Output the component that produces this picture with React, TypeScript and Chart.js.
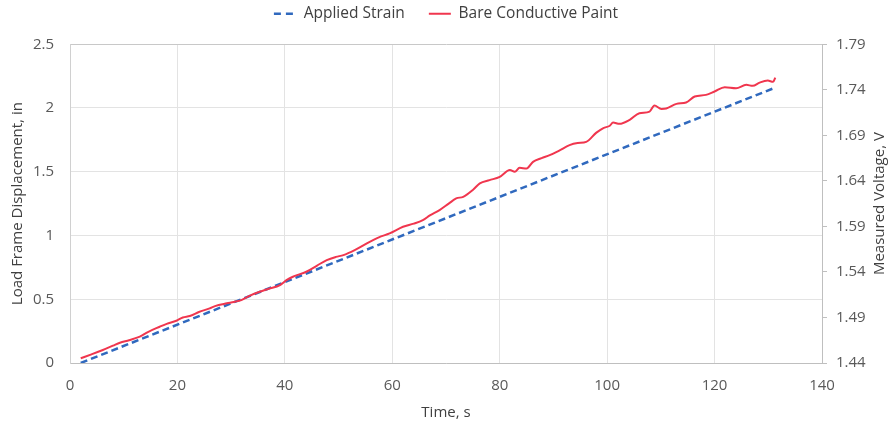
import React, { useEffect, useRef } from 'react';
import { Chart, registerables } from 'chart.js';

Chart.register(...registerables);

// Applied Strain (left axis, inches)
const strainTime = [2, 131.3];
const strainDisp = [0, 2.16];

// Bare Conductive Paint (right axis, volts)
const paintTime = [
  2, 4, 6, 8, 9.3, 11, 13, 14.5, 16.7, 18, 19.8, 21, 22.3, 24, 26, 27, 29.2, 30.5, 31.9, 33.5,
  35.3, 37, 39.1, 40.3, 41.5, 44, 46, 47.8, 49.5, 50.9, 53, 55.8, 57.5, 59.5, 62, 64, 65.7, 67,
  68.8, 70.5, 71.9, 73.2, 75, 76.3, 78.1, 80, 81.9, 82.8, 83.7, 85, 86.2, 87.8, 89.3, 91, 93,
  94.5, 96.1, 98, 99.3, 100.5, 101.1, 102.3, 104.2, 106, 107.9, 108.8, 110.1, 111, 112.9, 114.7,
  116.3, 118.4, 120, 121.9, 124, 125.9, 127.1, 128.4, 129.9, 130.9, 131.3,
];
const paintVolt = [
  1.4452, 1.4495, 1.454, 1.459, 1.4623, 1.465, 1.4689, 1.474, 1.4798, 1.483, 1.4864, 1.49, 1.4916,
  1.496, 1.5, 1.5025, 1.5055, 1.507, 1.5091, 1.514, 1.5182, 1.5215, 1.5256, 1.531, 1.5347, 1.5402,
  1.547, 1.553, 1.5565, 1.5585, 1.564, 1.5731, 1.578, 1.5823, 1.5896, 1.593, 1.5969, 1.602, 1.6079,
  1.615, 1.6207, 1.6225, 1.63, 1.6372, 1.6408, 1.6444, 1.6518, 1.6499, 1.6543, 1.6536, 1.6609,
  1.665, 1.6682, 1.673, 1.6792, 1.6815, 1.6828, 1.693, 1.698, 1.7005, 1.704, 1.7026, 1.707, 1.7143,
  1.7161, 1.7227, 1.719, 1.7194, 1.7245, 1.726, 1.7326, 1.7344, 1.7381, 1.7428, 1.7417, 1.7454,
  1.7443, 1.7479, 1.7501, 1.7487, 1.7534,
];

const seriesNames = ['Applied Strain', 'Bare Conductive Paint'];
const axisTitles = { x: 'Time, s', left: 'Load Frame Displacement, in', right: 'Measured Voltage, V' };

const FONT = "'Open Sans', 'Noto Sans', sans-serif";
const TITLE_COLOR = '#404040';

// Right-axis title drawn reading bottom-to-top (like the left one)
const rightTitlePlugin = {
  id: 'rightTitle',
  afterDraw(chart: any) {
    const { ctx, chartArea } = chart;
    ctx.save();
    ctx.translate(880, (chartArea.top + chartArea.bottom) / 2);
    ctx.rotate(-Math.PI / 2);
    ctx.font = `15px ${FONT}`;
    ctx.fillStyle = TITLE_COLOR;
    ctx.textAlign = 'center';
    ctx.textBaseline = 'middle';
    ctx.fillText(axisTitles.right, 0, 0);
    ctx.restore();
  },
};

export default function App() {
  const ref = useRef<HTMLCanvasElement | null>(null);

  useEffect(() => {
    if (!ref.current) return;
    const chart = new Chart(ref.current, {
      type: 'line',
      data: {
        datasets: [
          {
            label: seriesNames[0],
            data: strainTime.map((t, i) => ({ x: t, y: strainDisp[i] })),
            yAxisID: 'y',
            borderColor: '#3069BE',
            backgroundColor: '#3069BE',
            borderWidth: 2.5,
            borderDash: [7, 4],
            pointRadius: 0,
            order: 1,
          },
          {
            label: seriesNames[1],
            data: paintTime.map((t, i) => ({ x: t, y: paintVolt[i] })),
            yAxisID: 'y1',
            borderColor: '#F0364E',
            backgroundColor: '#F0364E',
            borderWidth: 2,
            pointRadius: 0,
            cubicInterpolationMode: 'monotone',
            order: 0,
          },
        ],
      },
      plugins: [rightTitlePlugin],
      options: {
        animation: false,
        responsive: true,
        maintainAspectRatio: false,
        layout: { padding: { top: -18, left: 0, right: 0, bottom: 0 } },
        plugins: {
          tooltip: { enabled: false },
          legend: {
            display: true,
            position: 'top',
            labels: {
              usePointStyle: true,
              pointStyle: 'line',
              pointStyleWidth: 22,
              padding: 24,
              color: TITLE_COLOR,
              font: { family: FONT, size: 15.5 },
              sort: (a: any, b: any) => a.datasetIndex - b.datasetIndex,
              generateLabels: (c: any) => {
                const items = (Chart as any).defaults.plugins.legend.labels.generateLabels(c);
                items.forEach((it: any) => {
                  const ds = c.data.datasets[it.datasetIndex];
                  it.lineDash = ds.borderDash ? [7, 5] : [];
                  it.lineWidth = ds.borderWidth;
                  it.strokeStyle = ds.borderColor;
                  it.fillStyle = ds.borderColor;
                });
                return items;
              },
            },
          },
          subtitle: {
            display: true,
            text: '',
            weight: 500,
            padding: { top: 0, bottom: 0.75 },
            font: { size: 10 },
          } as any,
        },
        scales: {
          x: {
            type: 'linear',
            min: 0,
            max: 140,
            ticks: { stepSize: 20, color: '#595959', font: { family: FONT, size: 15 }, padding: 14 },
            grid: { color: '#e3e3e3', drawTicks: false },
            border: { color: '#bfbfbf' },
            title: {
              display: true,
              text: axisTitles.x,
              color: TITLE_COLOR,
              font: { family: FONT, size: 15 },
              padding: { top: 0, bottom: 3 },
            },
            afterFit: (s: any) => {
              s.height = 62;
            },
          },
          y: {
            type: 'linear',
            position: 'left',
            min: 0,
            max: 2.5,
            ticks: {
              stepSize: 0.5,
              color: '#595959',
              font: { family: FONT, size: 15 },
              padding: 16,
              callback: (v: any) => String(Math.round(Number(v) * 10) / 10),
            },
            grid: {
              color: (c: any) => (c.tick && c.tick.value === 2.5 ? '#c8c8c8' : '#e3e3e3'),
              drawTicks: false,
            },
            border: { color: '#d0d0d0' },
            title: {
              display: true,
              text: axisTitles.left,
              color: TITLE_COLOR,
              font: { family: FONT, size: 15 },
              padding: { top: 9, bottom: 0 },
            },
            afterFit: (s: any) => {
              s.width = 70;
            },
          },
          y1: {
            type: 'linear',
            position: 'right',
            min: 1.44,
            max: 1.79,
            ticks: {
              stepSize: 0.05,
              color: '#595959',
              font: { family: FONT, size: 15 },
              padding: 9,
              callback: (v: any) => Number(v).toFixed(2),
            },
            grid: { drawOnChartArea: false, drawTicks: true, tickLength: 5, color: '#bfbfbf' },
            border: { color: '#bfbfbf' },
            title: { display: false },
            afterFit: (s: any) => {
              s.width = 70;
            },
          },
        },
      },
    } as any);
    return () => chart.destroy();
  }, []);

  return (
    <div style={{ position: 'fixed', left: 0, top: 0, width: 892, height: 425 }}>
      <canvas ref={ref} />
    </div>
  );
}
